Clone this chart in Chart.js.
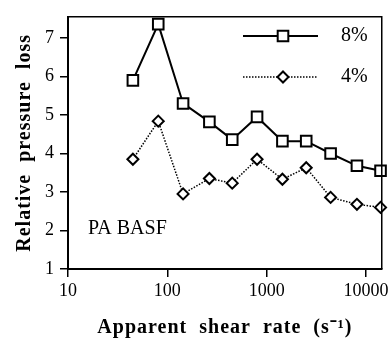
<!DOCTYPE html>
<html>
<head>
<meta charset="utf-8">
<script src="https://cdn.jsdelivr.net/npm/chart.js@4.4.1/dist/chart.umd.min.js"></script>
<style>
  html, body { margin: 0; padding: 0; background: #fff; }
  #wrap { width: 392px; height: 344px; }
</style>
</head>
<body>
<div id="wrap"><canvas id="myChart"></canvas></div>
<script>
const ctx = document.getElementById('myChart');

// shear rate (1/s), same for both series
const shearRate = [45, 81, 144, 265, 450, 800, 1440, 2500, 4400, 8100, 14000];
const loss8 = [5.9, 7.36, 5.3, 4.82, 4.36, 4.95, 4.32, 4.32, 4.0, 3.68, 3.55];
const loss4 = [3.85, 4.84, 2.95, 3.35, 3.23, 3.85, 3.33, 3.63, 2.86, 2.68, 2.6];
const xTicks = [10, 100, 1000, 10000];
const yTicks = [1, 2, 3, 4, 5, 6, 7];

const serif = '"Liberation Serif", "Times New Roman", serif';

// wider letter spacing on the axis titles
function spaceTitle(scale, px) {
  if (scale._spaced) return;
  const orig = scale.drawTitle;
  scale.drawTitle = function () {
    const c = this.ctx;
    c.save();
    c.letterSpacing = px + 'px';
    orig.apply(this, arguments);
    c.restore();
  };
  scale._spaced = true;
}

// legend inside the plot + label + top/right frame
const extras = {
  id: 'extras',
  beforeDraw(chart) {
    spaceTitle(chart.scales.x, 1);
    spaceTitle(chart.scales.y, 1);
  },
  afterDraw(chart) {
    const c = chart.ctx;
    const a = chart.chartArea;
    c.save();
    c.strokeStyle = '#000';
    c.lineWidth = 1.5;
    c.beginPath();
    c.moveTo(a.left, a.top);
    c.lineTo(a.right, a.top);
    c.lineTo(a.right, a.bottom);
    c.stroke();

    // legend
    const items = [
      { y: 36, dash: [], w: 2, style: 'rect', r: 7.5, label: '8%' },
      { y: 77, dash: [1.5, 1.5], w: 1.5, style: 'rectRot', r: 5.5, label: '4%' }
    ];
    items.forEach(it => {
      c.strokeStyle = '#000';
      c.lineWidth = it.w;
      c.setLineDash(it.dash);
      c.beginPath();
      c.moveTo(243, it.y);
      c.lineTo(318, it.y);
      c.stroke();
      c.setLineDash([]);
      c.fillStyle = '#fff';
      c.lineWidth = 2;
      Chart.helpers.drawPoint(c, { pointStyle: it.style, radius: it.r, borderWidth: 2 }, 283, it.y);
      c.fillStyle = '#000';
      c.font = '20px ' + serif;
      c.textBaseline = 'middle';
      c.fillText(it.label, 341, it.y);
    });

    c.font = '20px ' + serif;
    c.textBaseline = 'middle';
    c.fillText('PA BASF', 88, 229);
    c.restore();
  }
};

new Chart(ctx, {
  type: 'line',
  data: {
    datasets: [
      {
        label: '8%',
        data: shearRate.map((x, i) => ({ x: x, y: loss8[i] })),
        borderColor: '#000',
        borderWidth: 2,
        pointStyle: 'rect',
        pointRadius: 7.5,
        pointBorderWidth: 2,
        pointBackgroundColor: '#fff',
        pointBorderColor: '#000',
        tension: 0
      },
      {
        label: '4%',
        data: shearRate.map((x, i) => ({ x: x, y: loss4[i] })),
        borderColor: '#000',
        borderWidth: 1.5,
        borderDash: [1.5, 1.5],
        pointStyle: 'rectRot',
        pointRadius: 5.5,
        pointBorderWidth: 2,
        pointBackgroundColor: '#fff',
        pointBorderColor: '#000',
        tension: 0
      }
    ]
  },
  options: {
    responsive: true,
    maintainAspectRatio: false,
    animation: false,
    clip: false,
    layout: { padding: { left: 0, right: 6, top: 7, bottom: 0 } },
    plugins: {
      legend: { display: false },
      tooltip: { enabled: false }
    },
    scales: {
      x: {
        type: 'logarithmic',
        min: 10,
        max: 14400,
        afterBuildTicks: s => { s.ticks = xTicks.map(v => ({ value: v })); },
        afterFit: s => { s.height = 75; },
        border: { color: '#000', width: 2 },
        grid: { drawOnChartArea: false, drawTicks: true, tickLength: 8, color: '#000', lineWidth: 1.5 },
        ticks: {
          color: '#000',
          font: { family: serif, size: 18 },
          padding: 3,
          maxRotation: 0,
          callback: v => String(v)
        },
        title: {
          display: true,
          text: 'Apparent  shear  rate  (s\u207B\u00B9)',
          color: '#000',
          font: { family: serif, size: 20, weight: 'bold' },
          padding: { top: 0, bottom: 4 }
        }
      },
      y: {
        min: 1,
        max: 7.55,
        afterBuildTicks: s => { s.ticks = yTicks.map(v => ({ value: v })); },
        afterFit: s => { s.width = 68; },
        border: { color: '#000', width: 2 },
        grid: { drawOnChartArea: false, drawTicks: true, tickLength: 8, color: '#000', lineWidth: 1.5 },
        ticks: {
          color: '#000',
          font: { family: serif, size: 18 },
          padding: 6
        },
        title: {
          display: true,
          text: 'Relative  pressure  loss',
          color: '#000',
          font: { family: serif, size: 20, weight: 'bold' },
          padding: { top: 13, bottom: 0 }
        }
      }
    }
  },
  plugins: [extras]
});
</script>
</body>
</html>
